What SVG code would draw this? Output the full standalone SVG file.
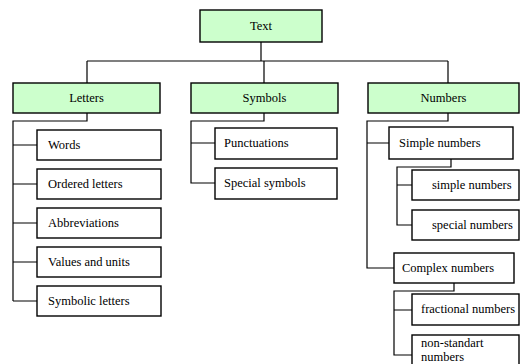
<svg xmlns="http://www.w3.org/2000/svg" width="521" height="364" viewBox="0 0 521 364">
<style>
.g,.w{stroke:#000;stroke-width:1.4}
.g{fill:#ccffcc}
.w{fill:#fff}
text{font-family:'Liberation Serif','DejaVu Serif','Times New Roman',serif;font-size:12.5px;fill:#000}
.c{text-anchor:middle}
#connectors path{fill:none;stroke:#000;stroke-width:1.2}
</style>
<rect width="521" height="364" fill="#fff"/>
<g id="connectors">
<path d="M261,42V61M87,61H448M87,61V83M264,61V83M448,61V83"/>
<path d="M87,113V121H13V301M13,145H37M13,184H37M13,223H37M13,262H37M13,301H37"/>
<path d="M264,113V121H191V183H215M191,143H215"/>
<path d="M448,113V121H367V268H394M367,143H389"/>
<path d="M451,159V167H397V225H412M397,185H412"/>
<path d="M454,283V291H394V355H412M394,310H412"/>
</g>
<g id="text"><rect class="g" x="200" y="10" width="122" height="32"/><text class="c" x="261" y="30" font-family="Liberation Serif, serif">Text</text></g>
<g id="letters"><rect class="g" x="13" y="83" width="147" height="30"/><text class="c" x="86.5" y="102">Letters</text></g>
<g id="symbols"><rect class="g" x="191" y="83" width="147" height="30"/><text class="c" x="264.5" y="102">Symbols</text></g>
<g id="numbers"><rect class="g" x="368" y="83" width="151" height="30"/><text class="c" x="443.5" y="102">Numbers</text></g>
<g id="words"><rect class="w" x="37" y="130" width="124" height="30"/><text x="48" y="149">Words</text></g>
<g id="ordered"><rect class="w" x="37" y="169" width="124" height="30"/><text x="48" y="188">Ordered letters</text></g>
<g id="abbrev"><rect class="w" x="37" y="208" width="124" height="30"/><text x="48" y="227">Abbreviations</text></g>
<g id="values"><rect class="w" x="37" y="247" width="124" height="30"/><text x="48" y="266">Values and units</text></g>
<g id="symbolic"><rect class="w" x="37" y="286" width="124" height="30"/><text x="48" y="305">Symbolic letters</text></g>
<g id="punct"><rect class="w" x="215" y="128" width="122" height="31"/><text x="224" y="147">Punctuations</text></g>
<g id="special-symbols"><rect class="w" x="215" y="168" width="122" height="31"/><text x="224" y="187">Special symbols</text></g>
<g id="simple"><rect class="w" x="389" y="127" width="124" height="32"/><text x="399" y="147">Simple numbers</text></g>
<g id="simple-sub"><rect class="w" x="412" y="170" width="107" height="30"/><text x="432" y="189">simple numbers</text></g>
<g id="special-numbers"><rect class="w" x="412" y="210" width="107" height="30"/><text x="432" y="229">special numbers</text></g>
<g id="complex"><rect class="w" x="394" y="253" width="120" height="30"/><text x="402" y="272">Complex numbers</text></g>
<g id="fractional"><rect class="w" x="412" y="294" width="107" height="31"/><text x="421" y="313">fractional numbers</text></g>
<g id="nonstandart"><rect class="w" x="412" y="335" width="107" height="40"/><text x="421" y="347">non-standart</text><text x="421" y="361">numbers</text></g>
</svg>
